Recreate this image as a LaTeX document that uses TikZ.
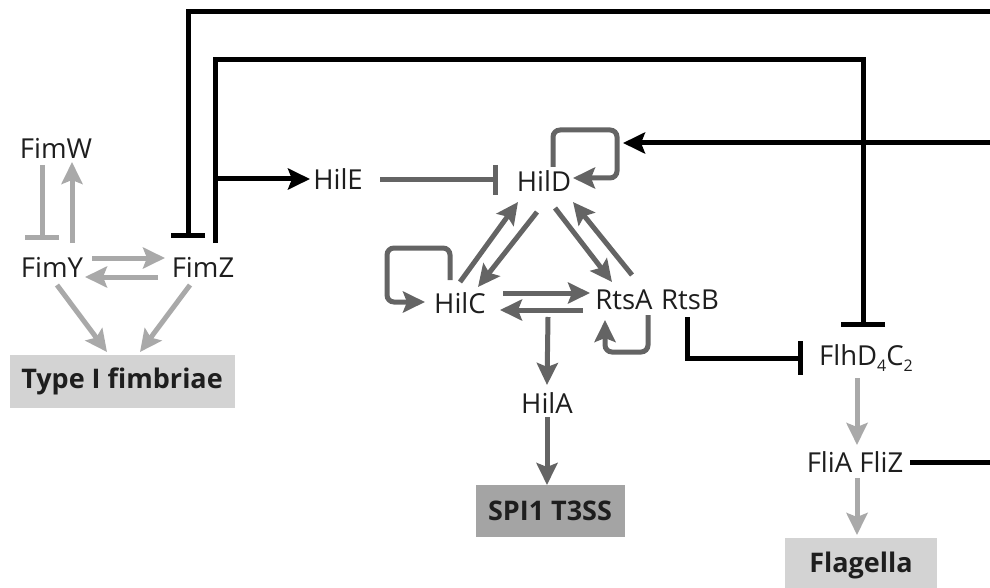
\documentclass[tikz,border=0pt]{standalone}
\usepackage{fontspec}
\setmainfont{Open Sans}
\usetikzlibrary{arrows.meta,calc}
\definecolor{fimgray}{HTML}{A9A9A9}
\definecolor{hilgray}{HTML}{646464}
\definecolor{boxlight}{HTML}{D3D3D3}
\definecolor{boxdark}{HTML}{A4A4A4}
\definecolor{txt}{HTML}{1E1E1E}
\newcommand{\lowsub}[1]{\raisebox{-0.4ex}{\fontsize{16}{16}\selectfont #1}}

\begin{document}
\begin{tikzpicture}[x=1pt, y=-1pt,
    lbl/.style={font=\fontsize{27.5}{32}\selectfont, text=txt, inner sep=0pt},
    outbox/.style={font=\fontsize{27}{32}\selectfont\bfseries, text=txt, inner sep=0pt},
    act/.style={line width=5pt, -{Stealth[length=22pt, width=21pt, inset=4pt]}},
    rep/.style={line width=5pt, -{Bar[width=#1]}},
    rep/.default=34pt,
    wire/.style={line width=5pt},
    loop/.style={act, rounded corners=7pt}]
  \useasboundingbox (0,0) rectangle (990,588);
  \clip (0,0) rectangle (990,588);

  %% Output boxes
  \node[outbox, fill=boxlight, minimum width=225pt, minimum height=53pt] (typeI) at (122,381) {Type I fimbriae};
  \node[outbox, fill=boxdark, minimum width=149pt, minimum height=52pt] (spi) at (550,511) {SPI1 T3SS};
  \node[outbox, fill=boxlight, minimum width=152pt, minimum height=54pt] (flag) at (861,565) {Flagella};

  %% Regulators
  \node[lbl] (fimw) at (56,148) {FimW};
  \node[lbl] (fimy) at (52,267) {FimY};
  \node[lbl] (fimz) at (203,267) {FimZ};
  \node[lbl] (hile) at (338,179) {HilE};
  \node[lbl] (hild) at (544,181) {HilD};
  \node[lbl] (hilc) at (460,303) {HilC};
  \node[lbl] (rtsa) at (624,300) {RtsA};
  \node[lbl] (rtsb) at (690,300) {RtsB};
  \node[lbl] (hila) at (547,403) {HilA};
  \node[lbl] (flhd) at (866,358) {FlhD\lowsub{4}C\lowsub{2}};
  \node[lbl] (flia) at (855,462) {FliA FliZ};

  %% Free ends at the right edge and on the lines
  \coordinate (edgetop) at (990,12);
  \coordinate (edgemid) at (990,143);
  \coordinate (edgelow) at (990,462);
  \coordinate (zbranch) at (215,179);
  \coordinate (hilcrts) at (548,317);

  %% ── Fim loop (light gray)
  \begin{scope}[fimgray]
    \draw[rep] ([shift={(-14,17)}]fimw.center) -- ([shift={(-10,-27)}]fimy.center);
    \draw[act] ([shift={(20,-24)}]fimy.center) -- ([shift={(16,14)}]fimw.center);
    \draw[act] ([shift={(40,-9)}]fimy.center) -- ([shift={(-38,-9)}]fimz.center);
    \draw[act] ([shift={(-45,10)}]fimz.center) -- ([shift={(33,10)}]fimy.center);
    \draw[act] ([shift={(5,18)}]fimy.center) -- ([shift={(-15,-29)}]typeI.center);
    \draw[act] ([shift={(-13,18)}]fimz.center) -- ([shift={(18,-29)}]typeI.center);
  \end{scope}

  %% ── Cross-talk (black)
  \draw[rep] (edgetop) -| ([shift={(-15,-29)}]fimz.center);
  \draw[rep=44pt] ([shift={(12,-24)}]fimz.center) -- ++(0,-183)
    -| ([shift={(-3,-31)}]flhd.center);
  \draw[act] (zbranch) -- ([shift={(-28,0)}]hile.center);
  \draw[act] (edgemid) -- ([shift={(79,-38)}]hild.center);
  \draw[rep] ([shift={(-3,17)}]rtsb.center) |- ([shift={(-63,0)}]flhd.center);
  \draw[wire] ([shift={(55,0)}]flia.center) -- (edgelow);

  %% ── SPI1 network (dark gray)
  \begin{scope}[hilgray]
    \draw[rep=30pt] ([shift={(42,1)}]hile.center) -- ([shift={(-46,-1)}]hild.center);
    \draw[loop] ([shift={(9,-14)}]hild.center) -- ++(0,-37) -- ++(64,0) -- ++(0,48) -- ++(-44,0);
    \draw[act] ([shift={(0,-21)}]hilc.center) -- ([shift={(-26,21)}]hild.center);
    \draw[act] ([shift={(-7,31)}]hild.center) -- ([shift={(18,-16)}]hilc.center);
    \draw[act] ([shift={(11,27)}]hild.center) -- ([shift={(-12,-18)}]rtsa.center);
    \draw[act] ([shift={(8,-25)}]rtsa.center) -- ([shift={(29,21)}]hild.center);
    \draw[loop] ([shift={(-10,-23)}]hilc.center) -- ++(0,-32) -- ++(-63,0) -- ++(0,54) -- ++(38,0);
    \draw[act] ([shift={(43,-10)}]hilc.center) -- ([shift={(-34,-7)}]rtsa.center);
    \draw[act] ([shift={(-41,10)}]rtsa.center) -- ([shift={(40,7)}]hilc.center);
    \draw[loop] ([shift={(24,15)}]rtsa.center) -- ++(0,37) -- ++(-43,0) -- ++(0,-32);
    \draw[act] (hilcrts) -- ([shift={(0,-18)}]hila.center);
    \draw[act] ([shift={(0,14)}]hila.center) -- ([shift={(-3,-26)}]spi.center);
  \end{scope}

  %% ── Flagella cascade (light gray)
  \draw[act, fimgray] ([shift={(-9,20)}]flhd.center) -- ([shift={(2,-17)}]flia.center);
  \draw[act, fimgray] ([shift={(2,16)}]flia.center) -- ([shift={(-4,-30)}]flag.center);

\end{tikzpicture}
\end{document}
